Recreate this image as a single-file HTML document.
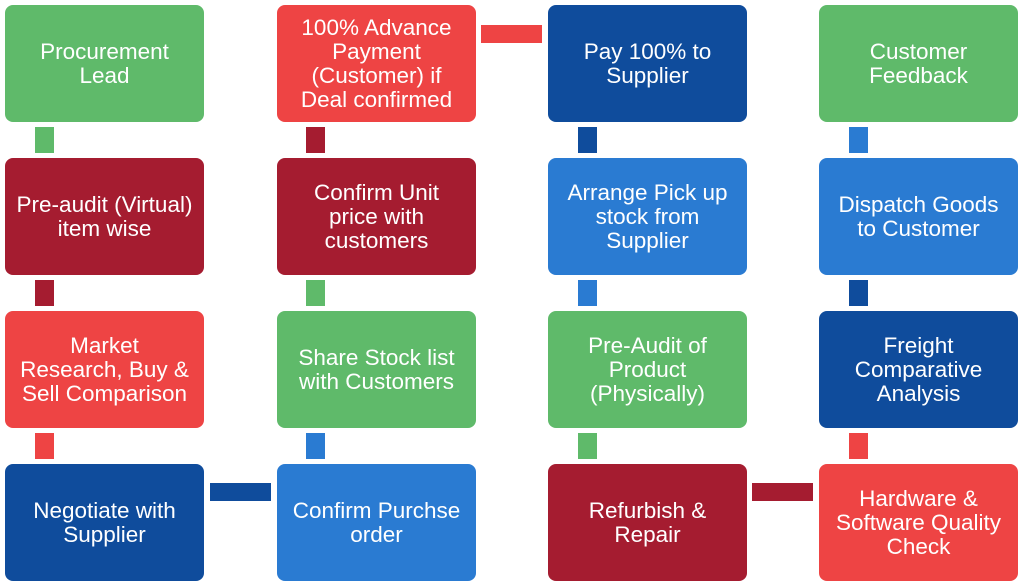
<!DOCTYPE html>
<html><head><style>
body{margin:0;width:1024px;height:587px;background:#fff;position:relative;overflow:hidden;font-family:"Liberation Sans",sans-serif}
.b{position:absolute;width:199px;height:117px;border-radius:8px;color:#fff;font-size:22.5px;line-height:24px;display:flex;align-items:center;justify-content:center;text-align:center;white-space:nowrap}
.c{position:absolute}
.g{background:#5fba6a}.dr{background:#a51c30}.r{background:#ee4444}.db{background:#0f4c9c}.bl{background:#2a7bd2}
</style></head><body>
<div class="b g" style="left:5px;top:5px">Procurement<br>Lead</div>
<div class="b dr" style="left:5px;top:158px">Pre-audit (Virtual)<br>item wise</div>
<div class="b r" style="left:5px;top:311px">Market<br>Research, Buy &amp;<br>Sell Comparison</div>
<div class="b db" style="left:5px;top:464px">Negotiate with<br>Supplier</div>

<div class="b r" style="left:277px;top:5px">100% Advance<br>Payment<br>(Customer) if<br>Deal confirmed</div>
<div class="b dr" style="left:277px;top:158px">Confirm Unit<br>price with<br>customers</div>
<div class="b g" style="left:277px;top:311px">Share Stock list<br>with Customers</div>
<div class="b bl" style="left:277px;top:464px">Confirm Purchse<br>order</div>

<div class="b db" style="left:548px;top:5px">Pay 100% to<br>Supplier</div>
<div class="b bl" style="left:548px;top:158px">Arrange Pick up<br>stock from<br>Supplier</div>
<div class="b g" style="left:548px;top:311px">Pre-Audit of<br>Product<br>(Physically)</div>
<div class="b dr" style="left:548px;top:464px">Refurbish &amp;<br>Repair</div>

<div class="b g" style="left:819px;top:5px">Customer<br>Feedback</div>
<div class="b bl" style="left:819px;top:158px">Dispatch Goods<br>to Customer</div>
<div class="b db" style="left:819px;top:311px">Freight<br>Comparative<br>Analysis</div>
<div class="b r" style="left:819px;top:464px">Hardware &amp;<br>Software Quality<br>Check</div>

<div class="c g" style="left:35px;top:127px;width:19px;height:26px"></div>
<div class="c dr" style="left:35px;top:280px;width:19px;height:26px"></div>
<div class="c r" style="left:35px;top:433px;width:19px;height:26px"></div>
<div class="c dr" style="left:306px;top:127px;width:19px;height:26px"></div>
<div class="c g" style="left:306px;top:280px;width:19px;height:26px"></div>
<div class="c bl" style="left:306px;top:433px;width:19px;height:26px"></div>
<div class="c db" style="left:578px;top:127px;width:19px;height:26px"></div>
<div class="c bl" style="left:578px;top:280px;width:19px;height:26px"></div>
<div class="c g" style="left:578px;top:433px;width:19px;height:26px"></div>
<div class="c bl" style="left:849px;top:127px;width:19px;height:26px"></div>
<div class="c db" style="left:849px;top:280px;width:19px;height:26px"></div>
<div class="c r" style="left:849px;top:433px;width:19px;height:26px"></div>

<div class="c r" style="left:481px;top:25px;width:61px;height:18px"></div>
<div class="c db" style="left:210px;top:483px;width:61px;height:18px"></div>
<div class="c dr" style="left:752px;top:483px;width:61px;height:18px"></div>
</body></html>
